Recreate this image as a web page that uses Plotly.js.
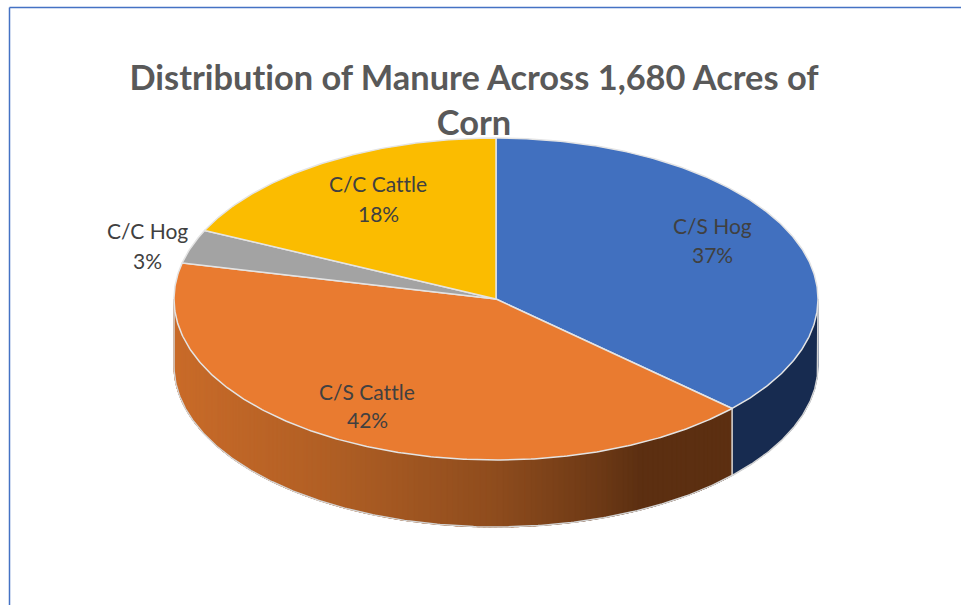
<!DOCTYPE html>
<html>
<head>
<meta charset="utf-8">
<script src="https://cdn.plot.ly/plotly-3.0.1.min.js"></script>
<style>html,body{margin:0;padding:0;background:#fff}#c{width:961px;height:605px}svg text{font-variant-ligatures:none;font-feature-settings:"liga" 0,"clig" 0;text-rendering:optimizeSpeed}</style>
</head>
<body>
<div id="c"></div>
<script>
const titleText = "Distribution of Manure Across 1,680 Acres of<br>Corn";
const categories = ["C/S Hog", "C/S Cattle", "C/C Hog", "C/C Cattle"];
const values = [36.9, 41.7, 3.4, 18];
const topColors = ["#4170BF", "#E97B30", "#A3A3A3", "#FBBC00"];
const sideColors = ["#172B50", null, null, null];

const W = 961, H = 605;
const cx = 496, cy = 299, rx = 322;
const squash = 0.5, depth = 67 / rx;
const xRange = [-cx / rx, (W - cx) / rx];
const yRange = [(cy - H) / rx, cy / rx];

const total = values.reduce((a, b) => a + b, 0);
const pt = (deg, drop) => {
  const t = deg * Math.PI / 180;
  return [Math.sin(t), Math.cos(t) * squash - (drop || 0)];
};
const arc = (a, b, drop) => {
  const n = Math.max(2, Math.ceil(Math.abs(b - a) * 2));
  const out = [];
  for (let i = 0; i <= n; i++) out.push(pt(a + (b - a) * i / n, drop));
  return out;
};
const poly = (pts, fill, lineColor, lineWidth) => ({
  type: "scatter", mode: "lines", hoverinfo: "skip", showlegend: false,
  x: pts.map(p => p[0]), y: pts.map(p => p[1]),
  fill: fill ? "toself" : "none", fillcolor: fill || undefined,
  line: {color: lineColor, width: lineWidth}
});

// Slice angle spans come from the values
const spans = [];
let acc = 0;
values.forEach(v => {
  const a = acc / total * 360;
  acc += v;
  spans.push([a, acc / total * 360]);
});

// Orange wall shading, left to right across the pie width
const shadeX = [-1, -0.5, 0, 0.31, 0.45, 1];
const shadeC = [[201,107,41],[175,94,36],[142,76,29],[110,58,22],[92,47,17],[92,47,17]];
const shade = x => {
  let i = 0;
  while (i < shadeX.length - 2 && x > shadeX[i + 1]) i++;
  const f = Math.min(1, Math.max(0, (x - shadeX[i]) / (shadeX[i + 1] - shadeX[i])));
  const c = shadeC[i].map((v, k) => Math.round(v + (shadeC[i + 1][k] - v) * f));
  return "rgb(" + c.join(",") + ")";
};

const traces = [];
const wall = (a, b) => {
  const top = arc(a, b, 0), bottom = arc(a, b, depth).reverse();
  return top.concat(bottom, [top[0]]);
};

// Front wall of each slice, clipped to the visible half of the pie
spans.forEach((s, i) => {
  const a = Math.max(s[0], 90), b = Math.min(s[1], 270);
  if (b <= a) return;
  if (sideColors[i]) {
    traces.push(poly(wall(a, b), sideColors[i], sideColors[i], 1));
  } else {
    const step = 1;
    for (let d = a; d < b; d += step) {
      const e = Math.min(b, d + step + 1.5);
      const col = shade(Math.sin((d + step / 2) * Math.PI / 180));
      traces.push(poly(wall(d, e), col, col, 1));
    }
  }
});

// Wall silhouette outline
const lower = arc(90, 270, depth);
traces.push(poly([pt(90, 0)].concat(lower, [pt(270, 0)]), null, "#D4D4D4", 1.5));

// Vertical seam between the two walls
const seam = spans[0][1];
traces.push(poly([pt(seam, 0), pt(seam, depth)], null, "#D9D9D9", 1.5));

// Top face
spans.forEach((s, i) => {
  const pts = [[0, 0]].concat(arc(s[0], s[1], 0), [[0, 0]]);
  traces.push(poly(pts, topColors[i], "#E4E4E4", 1.5));
});

const nameY = [225, 391, 230, 184];
const pctY = [254, 419, 260, 213];
const labelX = [712, 367, 147, 378];
const labelFont = {family: "Lato, 'Open Sans', sans-serif", size: 21, color: "#404040"};
const annotations = [];
categories.forEach((c, i) => {
  const base = {xref: "paper", yref: "paper", x: labelX[i] / W, xanchor: "center", yanchor: "middle", showarrow: false, font: labelFont};
  annotations.push(Object.assign({}, base, {y: 1 - nameY[i] / H, text: c}));
  annotations.push(Object.assign({}, base, {y: 1 - pctY[i] / H, text: Math.round(values[i] / total * 100) + "%"}));
});

const layout = {
  width: W, height: H,
  margin: {l: 0, r: 0, t: 0, b: 0},
  paper_bgcolor: "#FFFFFF", plot_bgcolor: "#FFFFFF",
  showlegend: false,
  title: {
    text: titleText, x: 474 / W, xanchor: "center", y: 1 - 90 / H, yanchor: "top",
    font: {family: "Lato, 'Open Sans', sans-serif", size: 34.4, color: "#595959", weight: 700}
  },
  xaxis: {range: xRange, visible: false, fixedrange: true},
  yaxis: {range: yRange, visible: false, fixedrange: true},
  annotations,
  shapes: [
    {type: "line", xref: "paper", yref: "paper", x0: 9.5 / W, x1: 1, y0: 1 - 7.5 / H, y1: 1 - 7.5 / H, line: {color: "#4472C4", width: 1.5}},
    {type: "line", xref: "paper", yref: "paper", x0: 9.5 / W, x1: 9.5 / W, y0: 1 - 7.5 / H, y1: 0, line: {color: "#4472C4", width: 1.5}}
  ]
};
Plotly.newPlot("c", traces, layout, {displayModeBar: false, staticPlot: true});
</script>
</body>
</html>
